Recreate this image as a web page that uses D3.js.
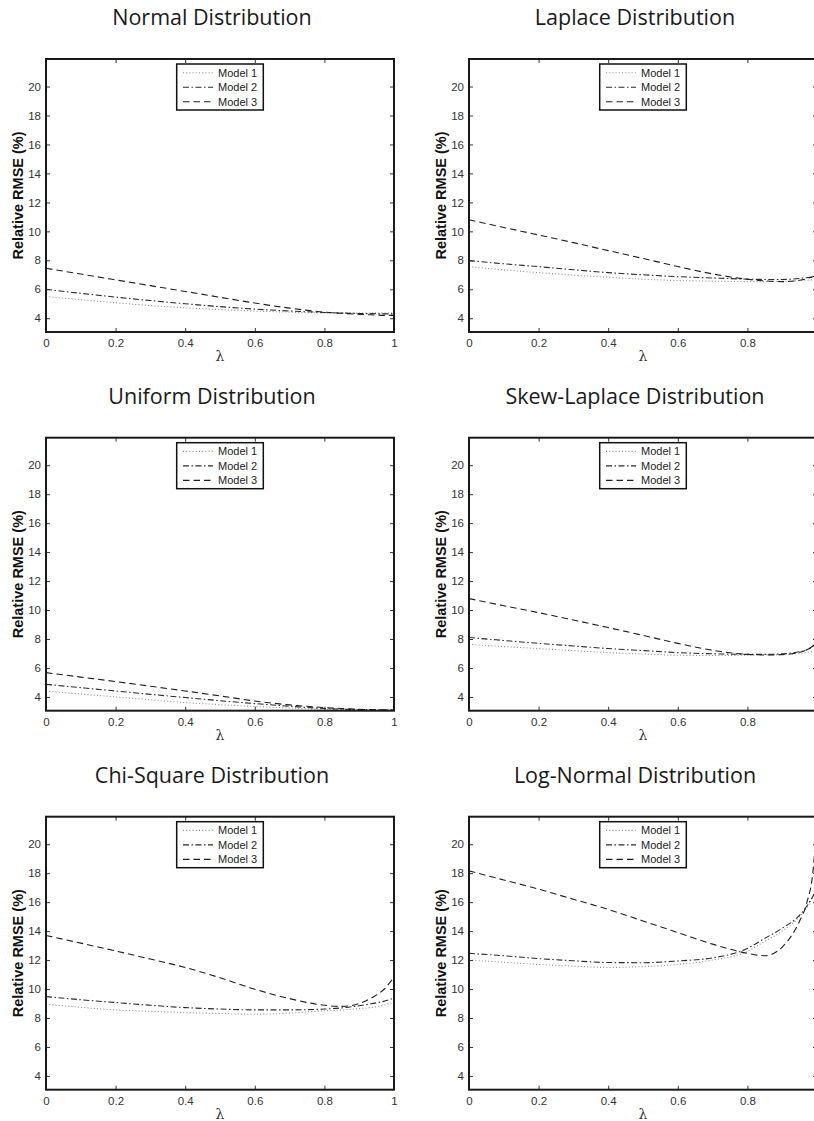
<!DOCTYPE html>
<html>
<head>
<meta charset="utf-8">
<script src="https://cdn.jsdelivr.net/npm/d3@7"></script>
<style>
  body { margin: 0; background: #fff; }
  svg { display: block; }
</style>
</head>
<body>
<div id="chart"></div>
<script>
// lambda grid shared by all panels
const lambdas = [0, 0.1, 0.2, 0.3, 0.4, 0.5, 0.6, 0.7, 0.8, 0.85, 0.9, 0.95, 0.97, 0.99, 1];

const titles = [
  'Normal Distribution', 'Laplace Distribution',
  'Uniform Distribution', 'Skew-Laplace Distribution',
  'Chi-Square Distribution', 'Log-Normal Distribution'
];
const modelNames = ['Model 1', 'Model 2', 'Model 3'];
const xTicks = [0, 0.2, 0.4, 0.6, 0.8, 1];
const xTickLabels = ['0', '0.2', '0.4', '0.6', '0.8', '1'];
const yTicks = [4, 6, 8, 10, 12, 14, 16, 18, 20];

const normalM1 = [5.5, 5.28, 5.07, 4.88, 4.72, 4.6, 4.5, 4.42, 4.37, 4.36, 4.35, 4.35, 4.35, 4.35, 4.35];
const normalM2 = [6.0, 5.72, 5.46, 5.22, 5.0, 4.8, 4.63, 4.5, 4.4, 4.36, 4.33, 4.31, 4.3, 4.3, 4.3];
const normalM3 = [7.45, 7.05, 6.65, 6.25, 5.85, 5.45, 5.05, 4.7, 4.42, 4.34, 4.27, 4.22, 4.2, 4.2, 4.2];

const laplaceM1 = [7.56, 7.34, 7.15, 6.98, 6.83, 6.7, 6.6, 6.56, 6.53, 6.53, 6.55, 6.6, 6.63, 6.66, 6.68];
const laplaceM2 = [7.98, 7.76, 7.56, 7.35, 7.15, 7.0, 6.87, 6.78, 6.7, 6.68, 6.68, 6.75, 6.8, 6.88, 6.92];
const laplaceM3 = [10.8, 10.27, 9.75, 9.22, 8.67, 8.13, 7.57, 7.06, 6.69, 6.58, 6.53, 6.62, 6.72, 6.88, 6.95];

const uniformM1 = [4.4, 4.2, 4.0, 3.8, 3.61, 3.47, 3.34, 3.24, 3.15, 3.13, 3.11, 3.1, 3.1, 3.1, 3.1];
const uniformM2 = [4.87, 4.64, 4.41, 4.18, 3.96, 3.74, 3.54, 3.36, 3.2, 3.16, 3.13, 3.11, 3.1, 3.1, 3.1];
const uniformM3 = [5.68, 5.37, 5.06, 4.74, 4.41, 4.07, 3.72, 3.45, 3.27, 3.2, 3.15, 3.12, 3.11, 3.1, 3.1];

const skewM1 = [7.63, 7.48, 7.34, 7.2, 7.06, 6.96, 6.88, 6.86, 6.88, 6.9, 6.93, 7.0, 7.06, 7.15, 7.2];
const skewM2 = [8.1, 7.9, 7.7, 7.52, 7.34, 7.2, 7.06, 6.98, 6.94, 6.94, 6.98, 7.12, 7.25, 7.5, 7.65];
const skewM3 = [10.79, 10.3, 9.82, 9.31, 8.79, 8.25, 7.7, 7.22, 6.94, 6.9, 6.92, 7.08, 7.25, 7.55, 7.75];

const chiM1 = [8.95, 8.74, 8.56, 8.46, 8.38, 8.31, 8.26, 8.34, 8.5, 8.55, 8.65, 8.78, 8.88, 9.02, 9.08];
const chiM2 = [9.48, 9.26, 9.07, 8.88, 8.72, 8.62, 8.56, 8.56, 8.62, 8.7, 8.85, 9.05, 9.15, 9.3, 9.38];
const chiM3 = [13.7, 13.17, 12.63, 12.07, 11.49, 10.78, 9.99, 9.34, 8.88, 8.8, 9.0, 9.6, 9.95, 10.5, 10.8];

const logM1 = [12.0, 11.85, 11.7, 11.58, 11.49, 11.55, 11.7, 12.0, 12.6, 13.3, 14.0, 15.0, 15.6, 16.4, 16.9];
const logM2 = [12.47, 12.3, 12.1, 11.95, 11.83, 11.82, 11.94, 12.15, 12.8, 13.5, 14.2, 15.1, 15.7, 16.5, 17.0];
const logM3 = [18.16, 17.53, 16.9, 16.2, 15.5, 14.7, 13.9, 13.1, 12.47, 12.3, 12.9, 14.7, 15.9, 18.5, 24];

const panelSeries = [
  [normalM1, normalM2, normalM3],
  [laplaceM1, laplaceM2, laplaceM3],
  [uniformM1, uniformM2, uniformM3],
  [skewM1, skewM2, skewM3],
  [chiM1, chiM2, chiM3],
  [logM1, logM2, logM3]
];

// line styles for model 1..3 (dotted, dash-dot, dashed)
const styles = [
  { stroke: '#8a8a8a', dash: '1,2.2' },
  { stroke: '#2a2a2a', dash: '6,2.5,1.5,2.5' },
  { stroke: '#1e1e1e', dash: '6.5,4' }
];

const colX = [46, 469];
const rowY = [59, 437.7, 816.7];
const w = 348;
const h = 273;

const svg = d3
  .select('#chart')
  .append('svg')
  .attr('width', 814)
  .attr('height', 1121)
  .style('background', '#fff');

const x = d3.scaleLinear().domain([0, 1]).range([0, w]);
const y = d3.scaleLinear().domain([3.05, 21.9]).range([h, 0]);

const line = d3
  .line()
  .x((d) => x(d[0]))
  .y((d) => y(d[1]))
  .curve(d3.curveMonotoneX);

titles.forEach((title, i) => {
  const col = i % 2;
  const g = svg
    .append('g')
    .attr('transform', `translate(${colX[col]}, ${rowY[Math.floor(i / 2)]})`);

  // title
  g.append('text')
    .attr('x', w / 2 - 8)
    .attr('y', -34)
    .attr('text-anchor', 'middle')
    .style('font-family', 'Open Sans, DejaVu Sans, sans-serif')
    .style('font-size', '21.5px')
    .style('fill', '#1a1a1a')
    .text(title);

  g.append('clipPath')
    .attr('id', 'clip' + i)
    .append('rect')
    .attr('width', w)
    .attr('height', h);

  // curves
  g.append('g')
    .attr('clip-path', `url(#clip${i})`)
    .selectAll('path')
    .data(panelSeries[i])
    .enter()
    .append('path')
    .attr('d', (vals) => line(vals.map((v, k) => [lambdas[k], v])))
    .attr('fill', 'none')
    .attr('stroke', (d, k) => styles[k].stroke)
    .attr('stroke-width', 1.1)
    .attr('stroke-dasharray', (d, k) => styles[k].dash);

  // axes, ticks pointing inward on all sides
  const tickFont = (sel) =>
    sel
      .selectAll('text')
      .style('font-family', 'Liberation Sans, Arial, sans-serif')
      .style('font-size', '11.5px')
      .style('fill', '#333');

  // right-hand panels run past the page edge, so their last label is not shown
  const xLabel = (d, k) => (col === 1 && d === 1 ? '' : xTickLabels[k]);

  g.append('g')
    .attr('transform', `translate(0, ${h})`)
    .call(d3.axisBottom(x).tickValues(xTicks).tickFormat(xLabel).tickSize(-4).tickPadding(7))
    .call((a) => a.select('.domain').remove())
    .call(tickFont);

  g.append('g')
    .call(d3.axisTop(x).tickValues(xTicks).tickFormat('').tickSize(-4))
    .call((a) => a.select('.domain').remove());

  g.append('g')
    .call(d3.axisLeft(y).tickValues(yTicks).tickSize(-4).tickPadding(5))
    .call((a) => a.select('.domain').remove())
    .call(tickFont);

  g.append('g')
    .attr('transform', `translate(${w}, 0)`)
    .call(d3.axisRight(y).tickValues(yTicks).tickFormat('').tickSize(-4))
    .call((a) => a.select('.domain').remove());

  g.selectAll('.tick line').attr('stroke', '#333');

  // frame
  g.append('rect')
    .attr('width', w)
    .attr('height', h)
    .attr('fill', 'none')
    .attr('stroke', '#1a1a1a')
    .attr('stroke-width', 2);

  // axis labels
  g.append('text')
    .attr('transform', `translate(-22.8, ${h / 2}) rotate(-90)`)
    .attr('text-anchor', 'middle')
    .style('font-family', 'Liberation Sans, Arial, sans-serif')
    .style('font-weight', 'bold')
    .style('font-size', '14.5px')
    .style('fill', '#111')
    .text('Relative RMSE (%)');

  g.append('text')
    .attr('x', w / 2)
    .attr('y', h + 29)
    .attr('text-anchor', 'middle')
    .style('font-family', 'DejaVu Serif, serif')
    .style('font-size', '14px')
    .style('fill', '#333')
    .text('λ');

  // legend
  const legend = g
    .append('g')
    .attr('transform', `translate(${w / 2 - 43.3}, 5)`);

  legend
    .append('rect')
    .attr('width', 86.6)
    .attr('height', 46)
    .attr('fill', '#fff')
    .attr('stroke', '#111')
    .attr('stroke-width', 1.5);

  const entries = legend
    .selectAll('.entry')
    .data(modelNames)
    .enter()
    .append('g')
    .attr('class', 'entry')
    .attr('transform', (d, k) => `translate(0, ${8.7 + k * 14.5})`);

  entries
    .append('line')
    .attr('x1', 6.3)
    .attr('x2', 36.3)
    .attr('stroke', (d, k) => styles[k].stroke)
    .attr('stroke-width', 1.1)
    .attr('stroke-dasharray', (d, k) => styles[k].dash);

  entries
    .append('text')
    .attr('x', 41.3)
    .attr('dy', '0.35em')
    .style('font-family', 'Liberation Sans, Arial, sans-serif')
    .style('font-size', '11px')
    .style('fill', '#222')
    .text((d) => d);
});
</script>
</body>
</html>
